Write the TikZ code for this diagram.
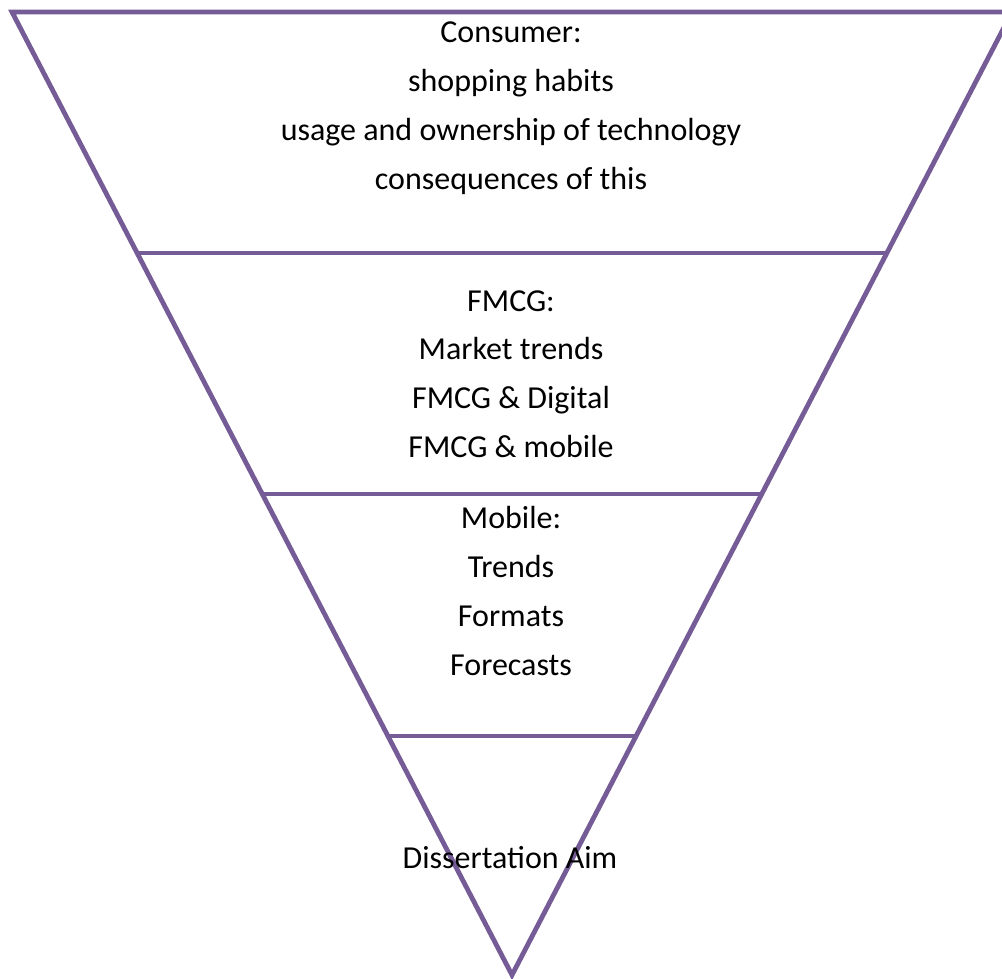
\documentclass[tikz,border=0pt]{standalone}
\usepackage{fontspec}
\setmainfont{Carlito}
\usetikzlibrary{positioning}
\definecolor{funnelpurple}{RGB}{117,92,151}
\tikzset{edge/.style = {draw = funnelpurple, line width = 3.6pt, line join = miter}}
\tikzset{tier/.style = {align = center, inner sep = 0,
                        font = \fontsize{24}{36.6}\selectfont}}

\begin{document}
\begin{tikzpicture}[x = 0.75pt, y = -0.75pt]
    \useasboundingbox (0, 0) rectangle (1002, 978);
    \clip (0, 0) rectangle (1002, 978);
    \coordinate (tl) at (12, 12);
    \coordinate (tr) at (1012, 12);
    \coordinate (apex) at (512, 975);
    \draw [edge] (tl) -- (tr) -- (apex) -- cycle;
    \coordinate (al) at (137.5, 253);
    \coordinate (ar) at (886.5, 253);
    \coordinate (bl) at (262.5, 494);
    \coordinate (br) at (761.5, 494);
    \coordinate (cl) at (387.5, 736);
    \coordinate (cr) at (636.5, 736);
    \draw [edge] (al) -- (ar);
    \draw [edge] (bl) -- (br);
    \draw [edge] (cl) -- (cr);
    \node [tier] (consumer) at (511, 108) {Consumer:\\shopping habits\\usage and ownership of technology\\consequences of this};
    \node [tier] (fmcg) at (511, 374) {FMCG:\\Market trends\\FMCG \& Digital\\FMCG \& mobile};
    \node [tier] (mobile) at (511, 591) {Mobile:\\Trends\\Formats\\Forecasts};
    \node [tier] (aim) at (510, 858) {Dissertation Aim};
  \end{tikzpicture}
\end{document}
